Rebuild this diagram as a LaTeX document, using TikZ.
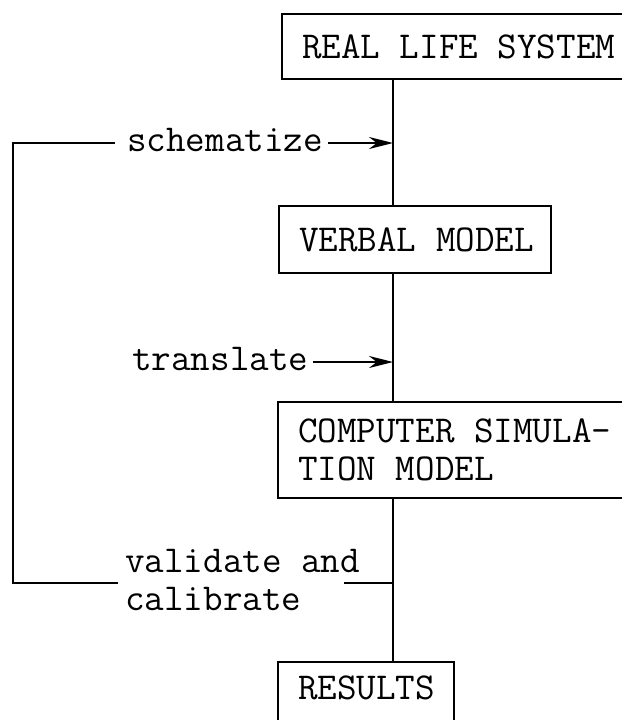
\documentclass[tikz,border=0pt]{standalone}
\usepackage{fontspec}
\usetikzlibrary{arrows.meta}
\newcommand{\tf}{\ttfamily\fontsize{38}{38}\selectfont\addfontfeature{FakeBold=1.2}}
\begin{document}
\begin{tikzpicture}[x=1pt,y=-1pt,
  box/.style={draw, line width=2.2pt, anchor=north west, align=left, inner xsep=20pt, inner ysep=0pt, font=\tf},
  lbl/.style={font=\tf, inner sep=0pt, anchor=west, text height=16.4pt, text depth=0pt},
  conn/.style={line width=2.4pt, line join=miter},
  arr/.style={-{Stealth[length=24pt,width=12pt]}}]
\useasboundingbox (0,0) rectangle (621,720);
\coordinate (spine) at (393,0);
\node[box, minimum height=65pt] (real) at (281,13) {\makebox[400pt][l]{REAL LIFE SYSTEM}};
\node[box, minimum height=67pt] (verbal) at (278,205) {\makebox[232pt][l]{VERBAL MODEL}};
\node[box, minimum height=96pt] (comp) at (277,401) {\makebox[400pt][l]{COMPUTER SIMULA-}\\TION MODEL};
\node[box, text height=37.6pt, text depth=40pt] (res) at (277,661) {\makebox[136pt][l]{RESULTS}};
\node[lbl] (schem) at (127,143) {schematize};
\node[lbl] (trans) at (132,362) {translate};
\node[font=\tf, inner sep=0pt, anchor=west, align=left] (valid) at (125,580) {validate and\\calibrate};
\draw[conn] (real.south -| spine) -- (verbal.north -| spine);
\draw[conn] (verbal.south -| spine) -- (comp.north -| spine);
\draw[conn] (comp.south -| spine) -- (res.north -| spine);
\draw[conn, arr] ([xshift=5pt]schem.east) -- (schem.east -| spine);
\draw[conn, arr] ([xshift=4pt]trans.east) -- (trans.east -| spine);
\draw[conn] ([xshift=-12pt]schem.west) -| ([xshift=-112pt,yshift=-3pt]valid.west) -- ([xshift=-7pt,yshift=-3pt]valid.west);
\draw[conn] ([xshift=-16pt,yshift=-3pt]valid.east) -- ([yshift=-3pt]valid.east -| spine);
\end{tikzpicture}
\end{document}
